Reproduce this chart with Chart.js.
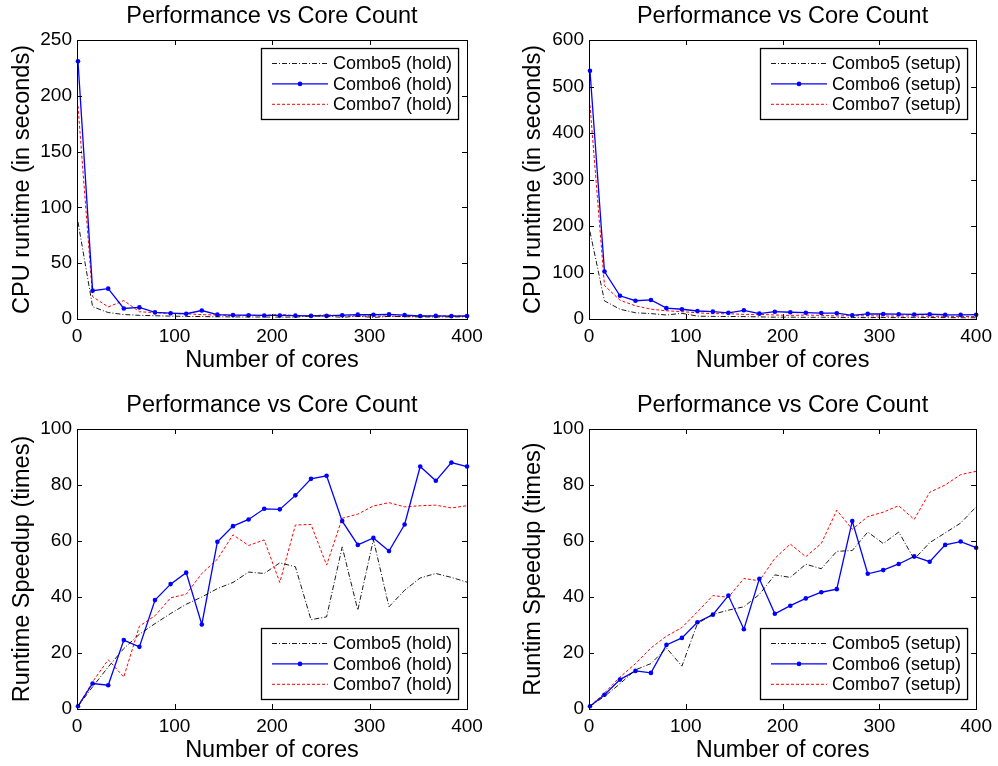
<!DOCTYPE html>
<html>
<head>
<meta charset="utf-8">
<title>Performance vs Core Count</title>
<script src="https://cdn.jsdelivr.net/npm/chart.js@4.4.0/dist/chart.umd.min.js"></script>
<style>
  body { margin: 0; background: #fff; }
  #wrap { position: relative; width: 998px; height: 766px; }
  .plot { position: absolute; width: 499px; height: 383px; }
</style>
</head>
<body>
<div id="wrap">
  <div class="plot" style="left:0;top:0"><canvas id="holdTime"></canvas></div>
  <div class="plot" style="left:499px;top:0"><canvas id="setupTime"></canvas></div>
  <div class="plot" style="left:0;top:383px"><canvas id="holdSpeed"></canvas></div>
  <div class="plot" style="left:499px;top:383px"><canvas id="setupSpeed"></canvas></div>
</div>
<script>
const cores = [1, 16, 32, 48, 64, 80, 96, 112, 128, 144, 160, 176, 192, 208, 224, 240, 256, 272, 288, 304, 320, 336, 352, 368, 384, 400];

// runtime in seconds
const holdTime5 = [87, 11, 5.8, 4.0, 3.3, 2.9, 2.6, 2.3, 2.2, 2.0, 1.9, 1.8, 1.8, 1.7, 1.7, 2.7, 2.6, 1.5, 2.5, 1.4, 2.4, 2.1, 1.9, 1.8, 1.9, 1.9];
const holdTime6 = [231, 25.4, 27.2, 9.4, 10.4, 5.9, 5.2, 4.7, 7.6, 3.9, 3.5, 3.4, 3.2, 3.2, 3.0, 2.8, 2.8, 3.4, 3.9, 3.8, 4.1, 3.5, 2.7, 2.8, 2.6, 2.7];
const holdTime7 = [191, 20, 10.8, 16.5, 6.5, 5.7, 4.8, 4.7, 3.9, 3.6, 3.1, 3.3, 3.2, 4.2, 2.9, 2.9, 3.7, 2.8, 2.7, 2.6, 2.6, 2.6, 2.6, 2.6, 2.7, 2.6];

const setupTime5 = [188, 39, 21, 13.4, 11.6, 8.6, 12.3, 6.2, 5.6, 5.3, 5.2, 4.6, 3.9, 4.0, 3.6, 3.8, 3.3, 3.3, 3.0, 3.2, 3.0, 3.5, 3.2, 3.0, 2.8, 2.6];
const setupTime6 = [534, 102, 50, 39.3, 41, 23.3, 21, 17.2, 15.8, 13.2, 18.7, 11.5, 15.7, 14.5, 13.5, 12.8, 12.5, 8, 11.1, 10.8, 10.3, 9.8, 10.2, 9.1, 8.9, 9.3];
const setupTime7 = [460, 72, 40.4, 28.4, 21.1, 17.7, 15.8, 13.3, 11.4, 11.5, 9.9, 10, 8.6, 7.8, 8.5, 7.8, 6.5, 7.2, 6.7, 6.5, 6.3, 6.8, 5.9, 5.75, 5.5, 5.4];

// speedup (times)
const holdSpeed5 = [1, 7.9, 15, 21.6, 26.7, 30.5, 34.1, 37.4, 40, 43, 45.2, 48.9, 48.4, 52.2, 50.8, 31.9, 32.9, 57.9, 35.3, 60.5, 36.5, 42.4, 46.8, 48.4, 47, 45.3];
const holdSpeed6 = [1, 9.1, 8.5, 24.6, 22.2, 38.9, 44.6, 48.7, 30.2, 59.7, 65.3, 67.7, 71.5, 71.3, 76.3, 82.2, 83.3, 67.1, 58.6, 61.1, 56.4, 65.9, 86.6, 81.5, 88.0, 86.6];
const holdSpeed7 = [1, 9.7, 17.6, 11.4, 29.6, 33.3, 39.7, 41.0, 48.4, 53.5, 62.2, 58.4, 60.4, 45.2, 65.7, 65.9, 51.4, 68.1, 69.6, 72.5, 73.7, 72.2, 72.6, 72.8, 71.8, 72.6];

const setupSpeed5 = [1, 4.5, 9, 14, 16.2, 21.8, 15.3, 30.5, 33.8, 35.3, 36.5, 40.9, 47.9, 47, 51.7, 50.1, 56.3, 56.6, 63.2, 59.1, 63.2, 53.5, 59.4, 62.9, 66.4, 72.2];
const setupSpeed6 = [1, 5.1, 10.5, 13.6, 12.9, 22.9, 25.4, 31, 33.7, 40.5, 28.5, 46.5, 34, 36.9, 39.5, 41.7, 42.8, 67.1, 48.3, 49.6, 51.8, 54.5, 52.6, 58.6, 59.8, 57.6];
const setupSpeed7 = [1, 5.7, 11.4, 16.2, 21.8, 26, 29.1, 34.7, 40.5, 39.9, 46.6, 45.8, 53.8, 58.9, 54.4, 59.1, 71, 64.2, 68.7, 70.3, 72.6, 67.7, 77.4, 80, 83.7, 84.9];

const FONT = '"Liberation Sans", Helvetica, Arial, sans-serif';
const chartTitle = 'Performance vs Core Count';

// box around the plot with inward ticks on all four sides
const frame = {
    id: 'frame',
    afterDatasetsDraw(chart) {
        const { ctx, chartArea: a, scales } = chart;
        ctx.save();
        ctx.strokeStyle = '#000';
        ctx.lineWidth = 1;
        ctx.strokeRect(Math.round(a.left) + 0.5, Math.round(a.top) + 0.5, Math.round(a.right - a.left), Math.round(a.bottom - a.top));
        ctx.beginPath();
        scales.x.ticks.forEach((t, i) => {
            const px = Math.round(scales.x.getPixelForTick(i)) + 0.5;
            ctx.moveTo(px, a.bottom); ctx.lineTo(px, a.bottom - 5);
            ctx.moveTo(px, a.top); ctx.lineTo(px, a.top + 5);
        });
        scales.y.ticks.forEach((t, i) => {
            const py = Math.round(scales.y.getPixelForTick(i)) + 0.5;
            ctx.moveTo(a.left, py); ctx.lineTo(a.left + 5, py);
            ctx.moveTo(a.right, py); ctx.lineTo(a.right - 5, py);
        });
        ctx.stroke();
        ctx.restore();
    }
};

// title centred over the plot area
const plotTitle = {
    id: 'plotTitle',
    afterDraw(chart) {
        const { ctx, chartArea: a } = chart;
        ctx.save();
        ctx.font = '23.5px ' + FONT;
        ctx.fillStyle = '#000';
        ctx.textAlign = 'center';
        ctx.textBaseline = 'middle';
        ctx.fillText(chartTitle, (a.left + a.right) / 2, a.top - 23);
        ctx.restore();
    }
};

// boxed legend inside the plot corner
const boxLegend = {
    id: 'boxLegend',
    afterDraw(chart, args, opts) {
        const { ctx, chartArea: a } = chart;
        const sets = chart.data.datasets;
        ctx.save();
        ctx.font = '18px ' + FONT;
        const textW = Math.max(...sets.map(d => ctx.measureText(d.label).width));
        const w = 72 + textW + 6;
        const h = 71;
        const x = Math.round(a.right - 9 - w);
        const y = opts.corner == 'bottom' ? Math.round(a.bottom - 10 - h) : Math.round(a.top + 8);
        ctx.fillStyle = '#fff';
        ctx.fillRect(x, y, w, h);
        ctx.strokeStyle = '#000';
        ctx.lineWidth = 1.3;
        ctx.strokeRect(x + 0.5, y + 0.5, w, h);
        sets.forEach((d, i) => {
            const ry = y + 15.5 + i * 20.4;
            ctx.strokeStyle = d.borderColor;
            ctx.lineWidth = d.borderWidth;
            ctx.setLineDash(d.borderDash || []);
            ctx.beginPath();
            ctx.moveTo(x + 11, ry);
            ctx.lineTo(x + 67, ry);
            ctx.stroke();
            ctx.setLineDash([]);
            if (d.pointRadius > 0) {
                ctx.fillStyle = d.borderColor;
                ctx.beginPath();
                ctx.arc(x + 39, ry, d.pointRadius, 0, Math.PI * 2);
                ctx.fill();
            }
            ctx.fillStyle = '#000';
            ctx.textAlign = 'left';
            ctx.textBaseline = 'middle';
            ctx.fillText(d.label, x + 72, ry + 1);
        });
        ctx.restore();
    }
};

const toPoints = vals => cores.map((c, i) => ({ x: c, y: vals[i] }));

const series = (tag, v5, v6, v7) => [
    {
        label: `Combo5 (${tag})`, data: toPoints(v5),
        borderColor: '#000', borderWidth: 0.9, borderDash: [5, 2, 1, 2],
        pointRadius: 0
    },
    {
        label: `Combo6 (${tag})`, data: toPoints(v6),
        borderColor: '#0000ff', borderWidth: 1.3,
        pointRadius: 2.3, pointBackgroundColor: '#0000ff', pointBorderColor: '#0000ff', pointBorderWidth: 0
    },
    {
        label: `Combo7 (${tag})`, data: toPoints(v7),
        borderColor: '#ff0000', borderWidth: 1, borderDash: [3, 2],
        pointRadius: 0
    }
];

const makeChart = (id, cfg) => {
    new Chart(document.getElementById(id), {
        type: 'line',
        data: { datasets: series(cfg.tag, cfg.v5, cfg.v6, cfg.v7) },
        plugins: [frame, plotTitle, boxLegend],
        options: {
            responsive: true,
            maintainAspectRatio: false,
            animation: false,
            layout: { padding: { top: cfg.padTop, right: cfg.padRight, bottom: cfg.padBottom, left: 0 } },
            elements: { line: { tension: 0 } },
            datasets: { line: { clip: false } },
            plugins: {
                legend: { display: false },
                tooltip: { enabled: false },
                boxLegend: { corner: cfg.corner }
            },
            scales: {
                x: {
                    type: 'linear', min: 0, max: 400,
                    afterFit: s => { s.height = 56; },
                    grid: { display: false, drawTicks: false },
                    border: { display: false },
                    ticks: { stepSize: 100, color: '#000', padding: 6, font: { family: FONT, size: 19 } },
                    title: { display: true, text: 'Number of cores', color: '#000', padding: { top: 1, bottom: 0 }, font: { family: FONT, size: 23.5 } }
                },
                y: {
                    min: 0, max: cfg.yMax,
                    afterFit: s => { s.width = cfg.yWidth; },
                    grid: { display: false, drawTicks: false },
                    border: { display: false },
                    ticks: { stepSize: cfg.yStep, color: '#000', padding: 5, font: { family: FONT, size: 19 } },
                    title: { display: true, text: cfg.yTitle, color: '#000', padding: { top: cfg.yTitlePad, bottom: 0 }, font: { family: FONT, size: 23.5 } }
                }
            }
        }
    });
};

makeChart('holdTime', {
    tag: 'hold', v5: holdTime5, v6: holdTime6, v7: holdTime7,
    yMax: 250, yStep: 50, yTitle: 'CPU runtime (in seconds)', corner: 'top',
    yWidth: 77, yTitlePad: 8, padTop: 40, padRight: 32, padBottom: 8
});
makeChart('setupTime', {
    tag: 'setup', v5: setupTime5, v6: setupTime6, v7: setupTime7,
    yMax: 600, yStep: 100, yTitle: 'CPU runtime (in seconds)', corner: 'top',
    yWidth: 90, yTitlePad: 20, padTop: 40, padRight: 19, padBottom: 8
});
makeChart('holdSpeed', {
    tag: 'hold', v5: holdSpeed5, v6: holdSpeed6, v7: holdSpeed7,
    yMax: 100, yStep: 20, yTitle: 'Runtime Speedup (times)', corner: 'bottom',
    yWidth: 77, yTitlePad: 8, padTop: 46, padRight: 32, padBottom: 1
});
makeChart('setupSpeed', {
    tag: 'setup', v5: setupSpeed5, v6: setupSpeed6, v7: setupSpeed7,
    yMax: 100, yStep: 20, yTitle: 'Runtim Speedup (times)', corner: 'bottom',
    yWidth: 90, yTitlePad: 20, padTop: 46, padRight: 19, padBottom: 1
});
</script>
</body>
</html>
